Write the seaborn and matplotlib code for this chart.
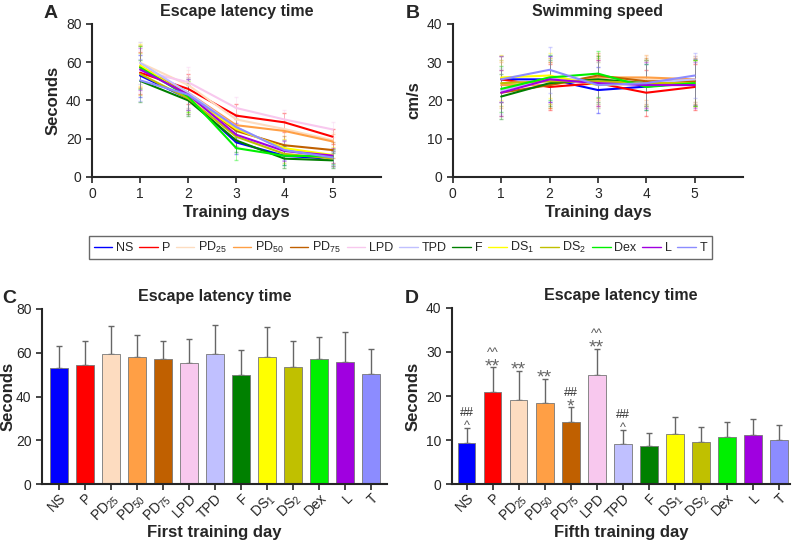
import numpy as np
import pandas as pd
import seaborn as sns
import matplotlib.pyplot as plt

sns.set_style("ticks")
plt.rcParams['font.family'] = ['Liberation Sans', 'DejaVu Sans']
plt.rcParams['mathtext.fontset'] = 'custom'
plt.rcParams['mathtext.rm'] = 'Liberation Sans'

groups = ["NS", "P", "PD25", "PD50", "PD75", "LPD", "TPD", "F", "DS1", "DS2", "Dex", "L", "T"]
labels = ["NS", "P", "PD$_{25}$", "PD$_{50}$", "PD$_{75}$", "LPD", "TPD", "F",
          "DS$_{1}$", "DS$_{2}$", "Dex", "L", "T"]
colors = ["#0000ff", "#ff0000", "#fddcc0", "#ff9f45", "#c06000", "#f8c8ee", "#c0c0ff",
          "#008000", "#ffff00", "#c0c000", "#00f000", "#a000e0", "#8c8cff"]
days = [1, 2, 3, 4, 5]

# escape latency per day (A)
latency = {
    "NS":   [53.0, 41.0, 18.0, 11.0, 9.4],
    "P":    [54.5, 46.0, 32.0, 28.5, 21.0],
    "PD25": [59.7, 48.0, 30.0, 25.0, 19.2],
    "PD50": [58.0, 44.0, 27.0, 24.0, 18.5],
    "PD75": [57.3, 43.0, 24.0, 16.5, 14.0],
    "LPD":  [55.6, 49.5, 36.0, 30.0, 24.8],
    "TPD":  [59.6, 44.0, 26.0, 14.0, 9.1],
    "F":    [50.2, 40.0, 19.0, 9.5, 8.6],
    "DS1":  [58.3, 42.0, 25.0, 15.0, 11.4],
    "DS2":  [53.8, 41.0, 21.0, 12.0, 9.6],
    "Dex":  [57.2, 42.0, 15.0, 11.0, 10.7],
    "L":    [56.2, 43.0, 22.0, 13.5, 11.1],
    "T":    [50.5, 43.0, 26.0, 14.0, 10.1],
}
latency_sd = [11.0, 8.0, 6.0, 5.0, 4.0]

# swimming speed per day (B)
speed = {
    "NS":   [25.5, 25.5, 22.7, 23.6, 24.7],
    "P":    [25.5, 23.5, 24.5, 22.0, 23.5],
    "PD25": [24.5, 25.0, 25.5, 25.5, 25.5],
    "PD50": [24.0, 24.0, 26.0, 26.0, 25.5],
    "PD75": [22.0, 24.0, 26.5, 25.0, 25.0],
    "LPD":  [23.0, 25.0, 25.0, 24.0, 24.5],
    "TPD":  [22.5, 26.0, 25.0, 24.5, 25.5],
    "F":    [21.0, 24.5, 25.5, 24.5, 24.5],
    "DS1":  [26.0, 26.5, 24.0, 24.5, 24.5],
    "DS2":  [24.5, 25.0, 25.0, 24.5, 24.5],
    "Dex":  [23.0, 26.0, 27.0, 23.5, 24.5],
    "L":    [22.0, 25.5, 24.5, 24.0, 24.0],
    "T":    [25.5, 28.0, 24.0, 24.5, 26.5],
}
speed_sd = [6.0, 6.0, 6.0, 6.0, 6.0]

# first / fifth day bars (C, D)
day1_mean = [53.0, 54.4, 59.5, 58.0, 57.1, 55.3, 59.4, 49.9, 58.0, 53.6, 57.1, 56.0, 50.2]
day1_sd = [10.1, 11.2, 12.7, 10.1, 8.1, 10.8, 13.3, 11.2, 13.6, 11.7, 10.1, 13.6, 11.5]
day5_mean = [9.4, 21.0, 19.2, 18.5, 14.0, 24.8, 9.1, 8.6, 11.4, 9.6, 10.7, 11.1, 10.1]
day5_sd = [3.4, 5.5, 6.5, 5.4, 3.4, 5.9, 3.3, 2.9, 3.8, 3.4, 3.5, 3.8, 3.3]
# significance marks: lower symbol, upper symbol
day5_vs_ns = ["^", "**", "**", "**", "*", "**", "^", "", "", "", "", "", ""]
day5_vs_p = ["##", "^^", "", "", "##", "^^", "##", "", "", "", "", "", ""]

palette = dict(zip(groups, colors))

fig = plt.figure(figsize=(7.93, 5.44), dpi=100)
axA = fig.add_axes([0.116, 0.675, 0.364, 0.281])
axB = fig.add_axes([0.571, 0.675, 0.366, 0.281])
axC = fig.add_axes([0.053, 0.110, 0.435, 0.322])
axD = fig.add_axes([0.570, 0.110, 0.426, 0.324])


def line_panel(ax, table, sd, ylim, yticks, ylabel, title):
    df = pd.DataFrame([(g, d, v) for g in groups for d, v in zip(days, table[g])],
                      columns=["group", "day", "value"])
    for g in groups:
        ax.errorbar(days, table[g], yerr=sd, fmt="none", ecolor=palette[g],
                    elinewidth=0.6, capsize=1.5, alpha=0.4, zorder=1)
    sns.lineplot(data=df, x="day", y="value", hue="group", palette=palette,
                 hue_order=groups, linewidth=1.5, ax=ax, legend=False, zorder=2)
    ax.set_xlim(0, 6)
    ax.set_xticks(range(6))
    ax.set_ylim(*ylim)
    ax.set_yticks(yticks)
    ax.set_xlabel("Training days", fontsize=12, fontweight="bold", labelpad=3)
    ax.set_ylabel(ylabel, fontsize=12, fontweight="bold")
    ax.set_title(title, fontsize=11.5, fontweight="bold", pad=6)
    ax.tick_params(labelsize=10, width=1.2, length=4)
    for s in ["left", "bottom"]:
        ax.spines[s].set_linewidth(1.5)
    sns.despine(ax=ax)


line_panel(axA, latency, latency_sd, (0, 80), range(0, 81, 20), "Seconds", "Escape latency time")
line_panel(axB, speed, speed_sd, (0, 40), range(0, 41, 10), "cm/s", "Swimming speed")


def bar_panel(ax, means, sds, ylim, yticks, xlabel, xlim):
    df = pd.DataFrame({"group": groups, "value": means})
    sns.barplot(data=df, x="group", y="value", hue="group", palette=palette,
                order=groups, hue_order=groups, width=0.68, edgecolor="#777777",
                linewidth=0.6, saturation=1, legend=False, ax=ax)
    x = np.arange(len(groups))
    ax.errorbar(x, means, yerr=[np.zeros(len(sds)), sds], fmt="none", ecolor="#666666",
                elinewidth=1.0, capsize=2.5, capthick=1.0, zorder=0)
    ax.set_xlim(*xlim)
    ax.set_ylim(*ylim)
    ax.set_yticks(yticks)
    ax.set_xticks(x)
    ax.set_xticklabels(labels, rotation=45, ha="right", rotation_mode="anchor")
    ax.set_xlabel(xlabel, fontsize=12, fontweight="bold", labelpad=0)
    ax.set_ylabel("Seconds", fontsize=12, fontweight="bold")
    ax.set_title("Escape latency time", fontsize=11.5, fontweight="bold", pad=6)
    ax.tick_params(labelsize=10, width=1.2, length=4)
    ax.tick_params(axis="x", pad=1)
    for s in ["left", "bottom"]:
        ax.spines[s].set_linewidth(1.5)
    sns.despine(ax=ax)


bar_panel(axC, day1_mean, day1_sd, (0, 80), range(0, 81, 20), "First training day", (-0.64, 12.6))
axC.yaxis.set_label_coords(-0.078, 0.5)
bar_panel(axD, day5_mean, day5_sd, (0, 40), range(0, 41, 10), "Fifth training day", (-0.56, 12.42))

# significance symbols above the error bars in D
for xi, (lo, hi, v, s) in enumerate(zip(day5_vs_ns, day5_vs_p, day5_mean, day5_sd)):
    top = v + s
    if lo:
        if "*" in lo:
            axD.text(xi, top + 0.2, lo, ha="center", va="center", fontsize=14, color="#666666")
            hi_y = top + 3.3
        else:
            axD.text(xi, top + 0.4, lo, ha="center", va="center", fontsize=9, color="#555555")
            hi_y = top + 3.3
    if hi:
        if hi == "^^":
            axD.text(xi, hi_y, hi, ha="center", va="center", fontsize=9, color="#555555")
        else:
            axD.text(xi, hi_y, hi, ha="center", va="center", fontsize=9, color="#333333")

handles = [plt.Line2D([], [], color=c, lw=1.0) for c in colors]
fig.legend(handles, labels, loc="center", bbox_to_anchor=(0.505, 0.545), ncol=13,
           fontsize=9, frameon=True, fancybox=False, edgecolor="#444444",
           handlelength=1.5, handletextpad=0.3, columnspacing=0.45, borderpad=0.35)

for txt, x, y in [("A", 0.055, 0.975), ("B", 0.512, 0.975), ("C", 0.003, 0.452), ("D", 0.51, 0.452)]:
    fig.text(x, y, txt, fontsize=14, fontweight="bold", ha="left", va="center")

fig.savefig("out.png", dpi=100)
